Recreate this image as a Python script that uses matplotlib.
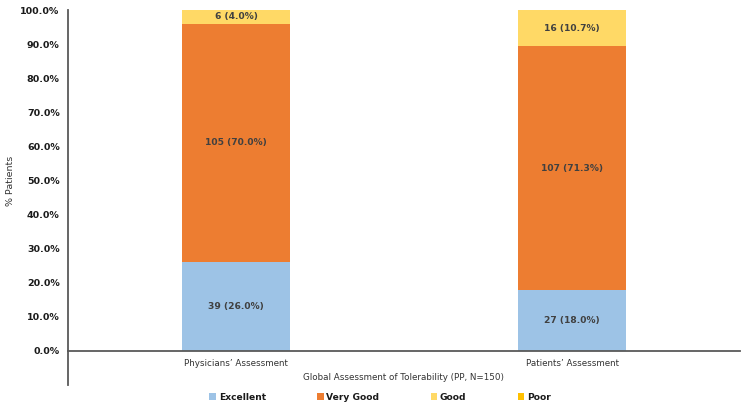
import matplotlib
matplotlib.use("Agg")
import matplotlib.pyplot as plt
from matplotlib.lines import Line2D
from matplotlib.patches import Patch

categories = ["Physicians\u2019 Assessment", "Patients\u2019 Assessment"]
series = ["Excellent", "Very Good", "Good", "Poor"]
counts = {
    "Excellent": [39, 27],
    "Very Good": [105, 107],
    "Good": [6, 16],
    "Poor": [0, 0],
}
percents = {
    "Excellent": [26.0, 18.0],
    "Very Good": [70.0, 71.3],
    "Good": [4.0, 10.7],
    "Poor": [0.0, 0.0],
}
colors = {
    "Excellent": "#9DC3E6",
    "Very Good": "#ED7D31",
    "Good": "#FFD966",
    "Poor": "#FFC000",
}
yticks = [0, 10, 20, 30, 40, 50, 60, 70, 80, 90, 100]
ytick_labels = [f"{v:.1f}%" for v in yticks]

fig = plt.figure(figsize=(7.5, 4.08), dpi=100)
ax = fig.add_axes([68/750, 1-351/408, (740-68)/750, 341/408])

x = list(range(len(categories)))
bottom = [0.0] * len(categories)
for s in series:
    vals = percents[s]
    ax.bar(x, vals, width=0.32, bottom=bottom, color=colors[s], label=s, zorder=2)
    for i, v in enumerate(vals):
        if counts[s][i] > 0:
            ax.text(x[i], bottom[i] + v / 2, f"{counts[s][i]} ({v:.1f}%)",
                    ha="center", va="center", fontsize=6.6, fontweight="bold",
                    color="#404040")
    bottom = [b + v for b, v in zip(bottom, vals)]

ax.set_xlim(-0.5, 1.5)
ax.set_ylim(0, 100)
ax.set_yticks(yticks)
ax.set_yticklabels(ytick_labels, fontsize=6.8, fontweight="bold", color="#1a1a1a")
ax.set_xticks(x)
ax.set_xticklabels(categories, fontsize=6.3, color="#333333")
ax.tick_params(axis="both", length=0)
ax.tick_params(axis="y", pad=6)
ax.tick_params(axis="x", pad=6)

for sp in ["top", "right"]:
    ax.spines[sp].set_visible(False)
for sp in ["left", "bottom"]:
    ax.spines[sp].set_color("#595959")
    ax.spines[sp].set_linewidth(1.3)

# extend left spine down to enclose category labels
ax.add_line(Line2D([0, 0], [0, -34/341], transform=ax.transAxes, color="#595959",
                   lw=1.3, clip_on=False))

ax.set_ylabel("% Patients", fontsize=6.8, color="#333333")
ax.yaxis.set_label_coords((15-68)/672, 0.5)
fig.text((68+740)/2/750, 1-378/408, "Global Assessment of Tolerability (PP, N=150)",
         ha="center", va="center", fontsize=6.3, color="#333333")

handles = [Patch(facecolor=colors[s], edgecolor="none") for s in series]
leg = fig.legend(handles, series, loc="center", bbox_to_anchor=(380/750, 1-397/408),
                 ncol=4, frameon=False, handlelength=0.7, handleheight=0.7,
                 handletextpad=0.3, columnspacing=5.6,
                 prop={"size": 6.6, "weight": "bold"})
for t in leg.get_texts():
    t.set_color("#1a1a1a")

fig.savefig("out.png", dpi=100)
